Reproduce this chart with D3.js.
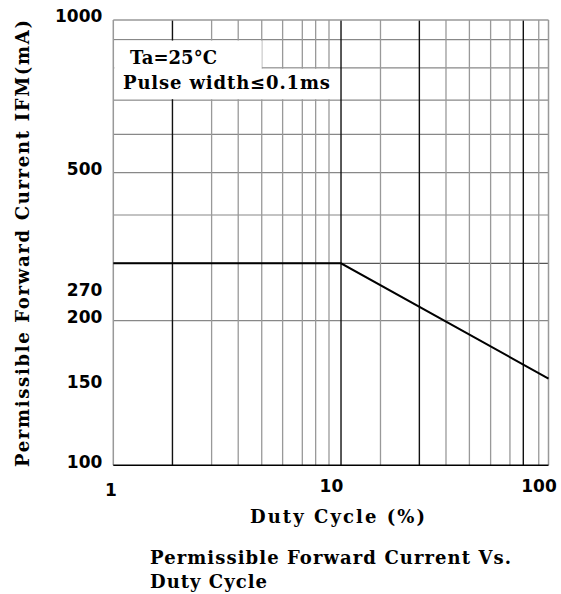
<!DOCTYPE html>
<html>
<head>
<meta charset="utf-8">
<script src="https://cdn.jsdelivr.net/npm/d3@7"></script>
<style>
  body { margin: 0; background: #fff; }
  text { font-family: "DejaVu Serif", "Liberation Serif", serif; font-weight: bold; fill: #000; }
  .tick text { font-family: "DejaVu Sans", "Liberation Sans", sans-serif; }
</style>
</head>
<body>
<script>
// Chart values
var xTicks = [1, 10, 100];
var yTicks = [1000, 500, 270, 200, 150, 100];

// grid lines as drawn on the original (not a clean log grid)
var gridX = [1.87, 2.83, 3.75, 4.81, 6.0, 7.39, 8.51, 9.8, 11.13, 16.9, 25.5, 33.8, 43.3, 54.2, 66.5, 76.6, 90.2];
var darkX = [1.87, 11.13, 25.5, 76.6];
var gridY = [915, 805, 695, 595, 500, 375, 270, 200];

// derating curve
var dutyCycle = [1, 11.13, 100];
var current = [270, 270, 155];

var width = 561;
var height = 594;

var svg = d3.select("body")
  .append("svg")
  .attr("width", width)
  .attr("height", height);

// x is a plain log scale, y follows the uneven spacing of the printed axis
var x = d3.scaleLog()
  .domain([1, 100])
  .range([113.3, 548.5]);

var y = d3.scaleLog()
  .domain([100, 150, 200, 270, 500, 1000])
  .range([465.3, 386, 320.7, 263.3, 172.7, 20]);

var x0 = x(1), x1 = x(100), y0 = y(100), y1 = y(1000);

// horizontal grid
svg.selectAll(".hgrid")
  .data(gridY)
  .enter()
  .append("line")
  .attr("class", "hgrid")
  .attr("x1", x0).attr("x2", x1)
  .attr("y1", function(d) { return y(d); })
  .attr("y2", function(d) { return y(d); })
  .style("stroke", function(d) { return d === 270 ? "#555" : "#888"; })
  .style("stroke-width", 1.2);

// vertical grid
svg.selectAll(".vgrid")
  .data(gridX)
  .enter()
  .append("line")
  .attr("class", "vgrid")
  .attr("x1", function(d) { return x(d); })
  .attr("x2", function(d) { return x(d); })
  .attr("y1", y0).attr("y2", y1)
  .style("stroke", function(d) { return darkX.indexOf(d) >= 0 ? "#111" : "#999"; })
  .style("stroke-width", function(d) { return darkX.indexOf(d) >= 0 ? 1.4 : 1.3; });

// white box behind the conditions text
svg.append("rect")
  .attr("x", x(1) + 1).attr("y", y(915) + 1)
  .attr("width", x(4.81) - x(1) - 1).attr("height", y(695) - y(915) - 2)
  .style("fill", "#fff");
svg.append("rect")
  .attr("x", x(4.81) - 1).attr("y", y(805) + 1)
  .attr("width", x(11.13) - x(4.81)).attr("height", y(695) - y(805) - 2)
  .style("fill", "#fff");

// frame
svg.append("line").attr("x1", x0).attr("x2", x1).attr("y1", y1).attr("y2", y1)
  .style("stroke", "#999").style("stroke-width", 1.3);
svg.append("line").attr("x1", x0).attr("x2", x0).attr("y1", y0).attr("y2", y1)
  .style("stroke", "#999").style("stroke-width", 1.5);
svg.append("line").attr("x1", x1).attr("x2", x1).attr("y1", y0).attr("y2", y1)
  .style("stroke", "#999").style("stroke-width", 1.5);
svg.append("line").attr("x1", x0).attr("x2", x1).attr("y1", y0).attr("y2", y0)
  .style("stroke", "#000").style("stroke-width", 1.5);

// curve
var line = d3.line()
  .x(function(d) { return x(d[0]); })
  .y(function(d) { return y(d[1]); });

svg.append("path")
  .datum(d3.zip(dutyCycle, current))
  .attr("d", line)
  .style("fill", "none")
  .style("stroke", "#000")
  .style("stroke-width", 2);

// axes
var yAxis = svg.append("g")
  .attr("transform", "translate(" + x0 + ",0)")
  .call(d3.axisLeft(y).tickValues(yTicks).tickSize(0).tickPadding(11).tickFormat(d3.format("d")));
yAxis.select(".domain").remove();
yAxis.selectAll("text")
  .style("font-size", "17px")
  .style("font-weight", "bold")
  .attr("dy", function(d) { return d === 270 ? "1.9em" : "0.1em"; });

var xAxis = svg.append("g")
  .attr("transform", "translate(0," + y0 + ")")
  .call(d3.axisBottom(x).tickValues(xTicks).tickSize(0).tickPadding(14).tickFormat(d3.format("d")));
xAxis.select(".domain").remove();
xAxis.selectAll("text")
  .style("font-size", "17px")
  .style("font-weight", "bold")
  .attr("dx", function(d) { return d === 1 ? -3 : d === 100 ? -10 : 0; })
  .attr("dy", function(d) { return d === 1 ? "1.0em" : "0.72em"; });

// conditions
svg.append("text")
  .attr("x", 130).attr("y", 64)
  .attr("textLength", 87)
  .style("font-size", "18px")
  .text("Ta=25°C");
svg.append("text")
  .attr("x", 123).attr("y", 89)
  .attr("textLength", 207)
  .style("font-size", "18px")
  .text("Pulse width≤0.1ms");

// axis titles
svg.append("text")
  .attr("x", 250).attr("y", 523)
  .attr("textLength", 175)
  .style("font-size", "18px")
  .text("Duty Cycle (%)");

svg.append("text")
  .attr("transform", "translate(29,467) rotate(-90)")
  .attr("textLength", 447)
  .style("font-size", "18px")
  .text("Permissible Forward Current IFM(mA)");

// caption
svg.append("text")
  .attr("x", 150).attr("y", 564)
  .attr("textLength", 361)
  .style("font-size", "18px")
  .text("Permissible Forward Current Vs.");
svg.append("text")
  .attr("x", 150).attr("y", 588)
  .attr("textLength", 117)
  .style("font-size", "18px")
  .text("Duty Cycle");
</script>
</body>
</html>
